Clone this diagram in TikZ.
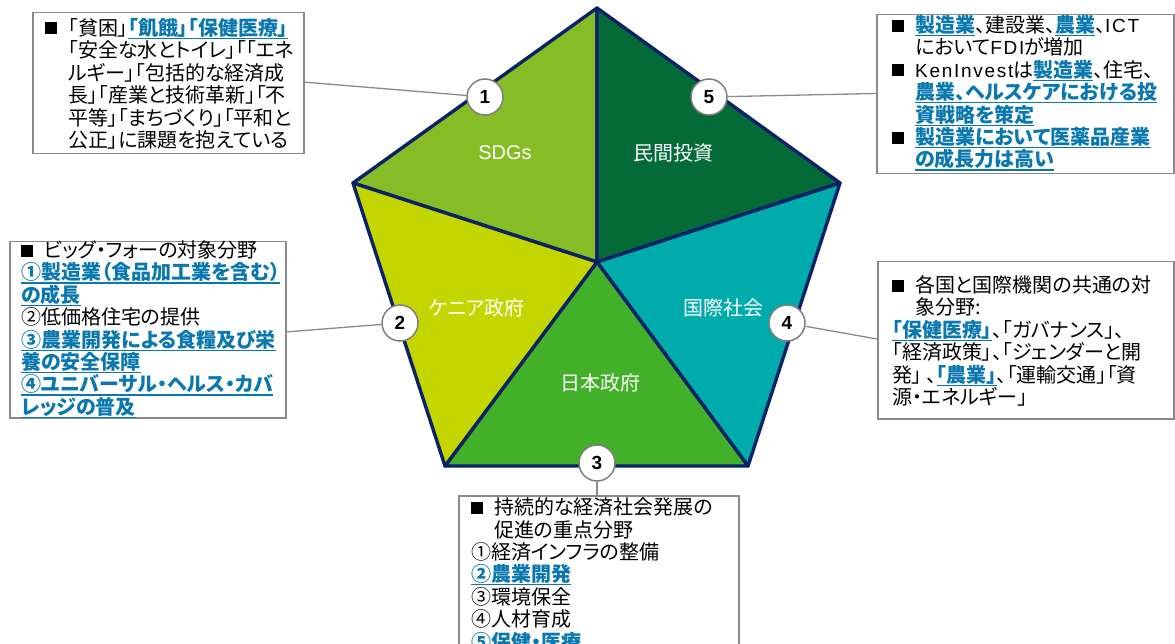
\documentclass[tikz,border=0pt]{standalone}
\usepackage{fontspec}
\setmainfont{Liberation Sans}
\newfontfamily\jp[RawFeature=+palt]{Noto Sans CJK JP}
\newfontfamily\lat{Liberation Sans}
\newfontfamily\latsp[LetterSpace=9]{Liberation Sans}
\definecolor{sdg}{HTML}{86BC25}
\definecolor{priv}{HTML}{046A38}
\definecolor{ken}{HTML}{C4D600}
\definecolor{jpn}{HTML}{43B02A}
\definecolor{intl}{HTML}{00ABAB}
\definecolor{navy}{HTML}{0C2266}
\definecolor{lnkblue}{HTML}{0A78AE}
\definecolor{boxgray}{HTML}{8A8A8A}
\definecolor{circgray}{HTML}{7F7F7F}
\newcommand\lnk[1]{{\color{lnkblue}\bfseries\setbox0\hbox{#1}\rlap{\rule[-3.6pt]{\wd0}{1.2pt}}\box0}}
\newcommand\bul{\makebox[23pt][l]{\rule[1pt]{12pt}{12pt}}}
\newcommand\ind{\hspace*{23pt}}
\newcommand\la[1]{{\latsp\fontsize{19}{22.4}\selectfont #1}}
\newcommand\boxtext[1]{\parbox[t]{320pt}{\lineskiplimit=-30pt\lineskip=0pt\relax #1}}
\begin{document}
\begin{tikzpicture}[x=1pt,y=-1pt,
  box/.style={draw=boxgray, line width=1.5pt, rectangle, inner sep=0pt, anchor=north west},
  txt/.style={inner sep=0pt, anchor=base west, text=black, font=\jp\fontsize{20}{22.4}\selectfont},
  num/.style={circle, draw=circgray, line width=1.5pt, fill=white, minimum size=36pt, inner sep=0pt, font=\lat\bfseries\fontsize{19}{22}\selectfont},
  conn/.style={draw=boxgray, line width=1.3pt},
  pent/.style={draw=navy, line width=3.4pt, line join=round},
  lbl/.style={text=white, inner sep=0pt, font=\jp\fontsize{20}{24}\selectfont}]
\useasboundingbox (0,0) rectangle (1175,644);
\clip (0,0) rectangle (1175,644);

% pentagon
\coordinate (T) at (597,8);
\coordinate (UL) at (353,183);
\coordinate (UR) at (840,183);
\coordinate (LL) at (445,466);
\coordinate (LR) at (748,466);
\coordinate (C) at (597,262);
\filldraw[pent, fill=sdg] (C) -- (UL) -- (T) -- cycle;
\filldraw[pent, fill=priv] (C) -- (T) -- (UR) -- cycle;
\filldraw[pent, fill=intl] (C) -- (UR) -- (LR) -- cycle;
\filldraw[pent, fill=jpn] (C) -- (LR) -- (LL) -- cycle;
\filldraw[pent, fill=ken] (C) -- (LL) -- (UL) -- cycle;

\node[lbl, font=\lat\fontsize{20}{24}\selectfont] (l1) at (505,153) {SDGs};
\node[lbl] (l5) at (673,153) {民間投資};
\node[lbl] (l2) at (477,308) {ケニア政府};
\node[lbl] (l4) at (723,308) {国際社会};
\node[lbl] (l3) at (600,383) {日本政府};

% boxes
\node[box, minimum width=271pt, minimum height=141pt] (b1) at (32,12) {};
\node[box, minimum width=297pt, minimum height=159pt] (b5) at (876,14) {};
\node[box, minimum width=276pt, minimum height=176pt] (b2) at (9,241) {};
\node[box, minimum width=296pt, minimum height=157pt] (b4) at (877,261) {};
\node[box, minimum width=280pt, minimum height=200pt] (b3) at (458,495) {};

% circles
\node[num] (c1) at (485,97) {1};
\node[num] (c5) at (709,97) {5};
\node[num] (c2) at (400,323) {2};
\node[num] (c4) at (787,323) {4};
\node[num] (c3) at (597,463) {3};

% connectors
\coordinate (e1) at (303,82);
\coordinate (e5) at (876,93.5);
\coordinate (e2) at (285,332);
\coordinate (e4) at (877,339);
\draw[conn] (e1) -- (c1);
\draw[conn] (e5) -- (c5);
\draw[conn] (e2) -- (c2);
\draw[conn] (e4) -- (c4);
\draw[conn] (c3) -- (c3 |- b3.north);

% texts
\node[txt] (t1) at (45,35.5) {\boxtext{%
\bul{}「貧困」\lnk{「飢餓」「保健医療」}\\
\ind{}「安全な水とトイレ」「「エネ\\
\ind{}ルギー」「包括的な経済成\\
\ind{}長」「産業と技術革新」「不\\
\ind{}平等」「まちづくり」「平和と\\
\ind{}公正」に課題を抱えている}};

\node[txt] (t5) at (892,32.6) {\boxtext{%
\bul{}\lnk{製造業}、建設業、\lnk{農業}、\la{ICT}\\
\ind{}において\la{FDI}が増加\\
\bul{}\la{KenInvest}は\lnk{製造業}、住宅、\\
\ind{}\lnk{農業、ヘルスケアにおける投}\\
\ind{}\lnk{資戦略を策定}\\
\bul{}\lnk{製造業において医薬品産業}\\
\ind{}\lnk{の成長力は高い}}};

\node[txt] (t2) at (21,257.6) {\boxtext{%
\bul{}ビッグ・フォーの対象分野\\
\lnk{①製造業（食品加工業を含む）}\\
\lnk{の成長}\\
②低価格住宅の提供\\
\lnk{③農業開発による食糧及び栄}\\
\lnk{養の安全保障}\\
\lnk{④ユニバーサル・ヘルス・カバ}\\
\lnk{レッジの普及}}};

\node[txt] (t4) at (892,292.6) {\boxtext{%
\bul{}各国と国際機関の共通の対\\
\ind{}象分野:\\
\lnk{「保健医療」}、「ガバナンス」、\\
「経済政策」、「ジェンダーと開\\
発」 、\lnk{「農業」}、「運輸交通」「資\\
源・エネルギー」}};

\node[txt] (t3) at (471,514.6) {\boxtext{%
\bul{}持続的な経済社会発展の\\
\ind{}促進の重点分野\\
①経済インフラの整備\\
\lnk{②農業開発}\\
③環境保全\\
④人材育成\\
\lnk{⑤保健・医療}\la{….}}};
\end{tikzpicture}
\end{document}
